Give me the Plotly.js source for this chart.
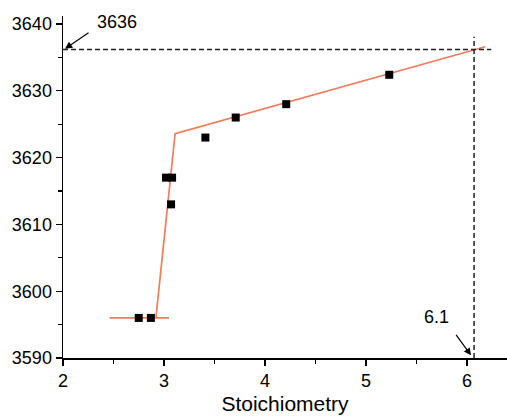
<!DOCTYPE html>
<html>
<head>
<meta charset="utf-8">
<script src="https://cdn.plot.ly/plotly-3.0.1.min.js"></script>
<style>
  html, body { margin: 0; padding: 0; background: #fff; }
  #chart { width: 507px; height: 419px; }
</style>
</head>
<body>
<div id="chart"></div>
<script>
// Measured peak position versus stoichiometry
const stoich = [2.75, 2.87, 3.02, 3.08, 3.07, 3.41, 3.71, 4.21, 5.23];
const peak   = [3596, 3596, 3617, 3617, 3613, 3623, 3626, 3628, 3632.4];

// Linear fits: plateau, then rising branch with its kink
const plateauX = [2.46, 3.05];
const plateauY = [3596, 3596];
const riseX = [2.92, 3.11, 6.18];
const riseY = [3596, 3623.6, 3636.6];

// Guide lines marking the intersection
const guideLevel = 3636.2;
const guideStoich = 6.07;
const guideHX = [2, 6.24];
const guideVY = [3590, 3638.1];

const fitColor = 'rgb(243,122,92)';
const guideStyle = { color: '#222', width: 1.5, dash: '5px,3px' };

const traces = [
  { x: plateauX, y: plateauY, mode: 'lines', line: { color: fitColor, width: 1.7 }, hoverinfo: 'skip' },
  { x: riseX, y: riseY, mode: 'lines', line: { color: fitColor, width: 1.7 }, hoverinfo: 'skip' },
  { x: guideHX, y: [guideLevel, guideLevel], mode: 'lines', line: guideStyle, hoverinfo: 'skip' },
  { x: [guideStoich, guideStoich], y: guideVY, mode: 'lines', line: guideStyle, hoverinfo: 'skip' },
  { x: stoich, y: peak, mode: 'markers',
    marker: { symbol: 'square', size: 8, color: '#000' } }
];

const fam = 'Liberation Sans, Arial, sans-serif';
const tickFont = { family: fam, size: 18, color: '#000' };

const layout = {
  width: 507, height: 419,
  margin: { l: 63, r: 0, t: 16, b: 61, pad: 0 },
  paper_bgcolor: '#fff', plot_bgcolor: '#fff',
  showlegend: false,
  xaxis: {
    range: [2, 6.396], showgrid: false, zeroline: false,
    showline: true, linecolor: '#000', linewidth: 1.5,
    ticks: 'outside', ticklen: 6, tickwidth: 1.3, tickcolor: '#000',
    dtick: 1, tick0: 2, tickfont: tickFont,
    minor: { dtick: 0.5, ticks: 'outside', ticklen: 4, tickwidth: 1.2, tickcolor: '#000' },
    title: { text: 'Stoichiometry', font: { family: fam, size: 21, color: '#000' }, standoff: 6 }
  },
  yaxis: {
    range: [3590, 3641.2], showgrid: false, zeroline: false,
    showline: true, linecolor: '#000', linewidth: 1.5,
    ticks: 'outside', ticklen: 6, tickwidth: 1.3, tickcolor: '#000',
    dtick: 10, tick0: 3590, tickfont: tickFont,
    minor: { dtick: 5, ticks: 'outside', ticklen: 4, tickwidth: 1.2, tickcolor: '#000' }
  },
  annotations: [
    { x: 2.02, y: 3636.3, xref: 'x', yref: 'y', text: '', showarrow: true,
      ax: 25, ay: -17, arrowhead: 2, arrowsize: 1.2, arrowwidth: 1.2, arrowcolor: '#000' },
    { x: 2.53, y: 3640.3, xref: 'x', yref: 'y', text: '3636', showarrow: false,
      font: tickFont },
    { x: 6.04, y: 3590.4, xref: 'x', yref: 'y', text: '', showarrow: true,
      ax: -16, ay: -22, arrowhead: 2, arrowsize: 1.2, arrowwidth: 1.2, arrowcolor: '#000' },
    { x: 5.7, y: 3596.1, xref: 'x', yref: 'y', text: '6.1', showarrow: false,
      font: tickFont }
  ]
};

Plotly.newPlot('chart', traces, layout, { displayModeBar: false, staticPlot: true });
</script>
</body>
</html>
